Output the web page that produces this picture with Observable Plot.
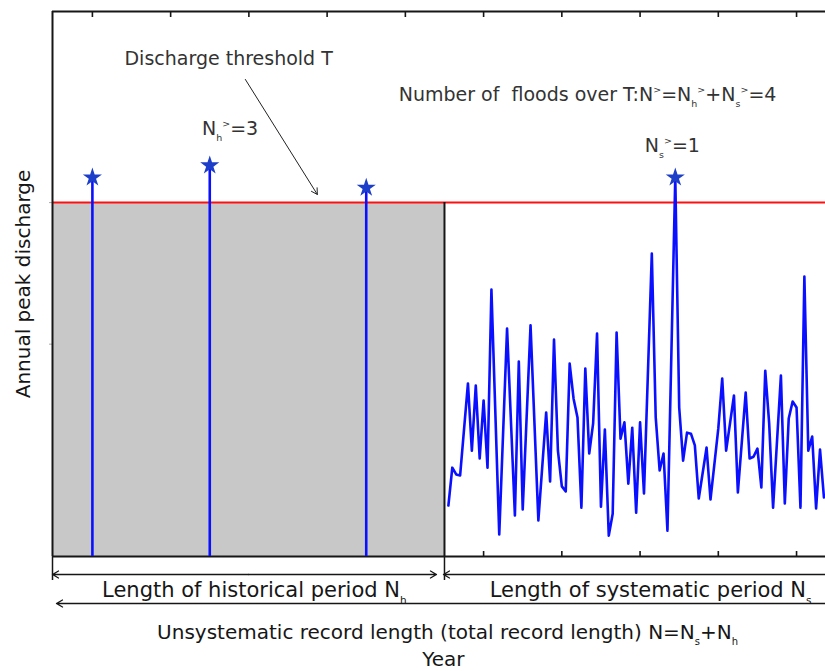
<!DOCTYPE html>
<html><head><meta charset="utf-8">
<script src="https://cdn.jsdelivr.net/npm/d3@7"></script>
<script src="https://cdn.jsdelivr.net/npm/@observablehq/plot@0.6"></script>
<style>body{margin:0;background:#fff} svg{display:block}</style>
</head><body><div id="chart"></div>
<script>
// ---------------- data ----------------
const threshold = 100;                       // discharge threshold T
const historicalYears = [1700, 1730, 1770];
const historicalPeaks = [107.1, 110.5, 104.2];
const systematicYears = [1791,1792,1793,1794,1796,1797,1798,1799,1800,1801,1802,1804,1806,1808,1809,1810,1812,1814,1816,1817,1818,1819,1820,1821,1822,1823,1824,1825,1826,1827,1828,1829,1830,1831,1832,1833,1834,1835,1836,1837,1838,1839,1840,1841,1843,1844,1845,1846,1847,1849,1850,1851,1852,1853,1854,1855,1857,1858,1860,1861,1862,1864,1865,1867,1868,1869,1870,1871,1872,1873,1874,1876,1877,1878,1879,1880,1881,1882,1883,1884,1885,1886,1887];
const systematicPeaks = [14.4,25.1,23.2,22.9,48.9,29.9,48.3,27.7,44.1,25.1,75.4,6.2,64.4,11.6,55.1,13.3,65.3,10.2,40.7,21.2,61.3,29.9,19.8,18.4,54.5,44.6,39.3,13.8,53.1,29.1,37.6,63.0,14.1,35.9,5.9,12.1,63.3,33.3,37.9,20.6,36.4,12.4,37.9,17.8,85.6,39.3,24.3,29.1,7.3,107.1,42.1,27.1,35.0,34.7,31.4,16.4,30.8,16.1,36.2,50.3,29.9,45.5,18.1,46.3,27.7,28.2,30.5,19.5,52.5,37.6,13.8,51.1,15.0,39.0,43.8,42.1,13.8,79.1,29.9,33.9,13.6,30.2,16.7];
const periodStart = 1689.8;     // start of historical period (left edge)
const systematicStart = 1790;   // start of systematic record
const periodEnd = 1887.4;       // right edge of the record shown
const yTop = 154;
const tickYears = [1700,1720,1740,1760,1780,1800,1820,1840,1860,1880];
const yTicks = [60, 100];

// annotation texts (markup: _{sub}, ^{sup})
const notes = [
  {text: "Discharge threshold T", x: 1708.2, y: 140.6},
  {text: "N_{h}^{>}=3", x: 1728.0, y: 120.7},
  {text: "Number of  floods over T:N^{>}=N_{h}^{>}+N_{s}^{>}=4", x: 1778.3, y: 130.3},
  {text: "N_{s}^{>}=1", x: 1841.2, y: 115.9}
];
const pointer = {x1: 1739.1, y1: 134.8, x2: 1757.5, y2: 102.3};
const periodLabels = [
  {text: "Length of historical period N_{h}", x: 1741.4},
  {text: "Length of systematic period N_{s}", x: 1842.7}
];
const totalLabel = {text: "Unsystematic record length (total record length) N=N_{s}+N_{h}", x: 1790.8};
const xTitle = {text: "Year", x: 1789.7};
const yTitle = "Annual peak discharge";

// ---------------- build ----------------
const W = 825, H = 671, mT = 11, mB = 115, mL = 52, mR = 0;
const pxPerUnit = (H - mT - mB) / yTop;
const below = px => -px / pxPerUnit;

const series = systematicYears.map((year, i) => ({year, q: systematicPeaks[i]}));
const hist = historicalYears.map((year, i) => ({year, q: historicalPeaks[i]}));
const exceed = hist.concat(series.filter(d => d.q > threshold));

const ink = "#161616";
const chart = Plot.plot({
  width: W, height: H,
  marginTop: mT, marginBottom: mB, marginLeft: mL, marginRight: mR,
  x: {domain: [periodStart, periodEnd], axis: null},
  y: {domain: [0, yTop], axis: null},
  style: {fontFamily: "DejaVu Sans", background: "white", overflow: "visible"},
  marks: [
    Plot.axisX({anchor: "top", ticks: tickYears, tickSize: -5, stroke: ink, strokeWidth: 1.6, fill: "none"}),
    Plot.axisX({anchor: "bottom", ticks: tickYears, tickSize: -5, stroke: ink, strokeWidth: 1.6, fill: "none"}),
    Plot.axisY({anchor: "left", ticks: yTicks, tickSize: 3, stroke: "#aaa", fill: "none"}),
    Plot.rect([{x1: periodStart, x2: systematicStart, y1: 0, y2: threshold}],
      {x1: "x1", x2: "x2", y1: "y1", y2: "y2", fill: "#c8c8c8"}),
    Plot.ruleY([threshold], {stroke: "#ff1010", strokeWidth: 2}),
    Plot.ruleX([systematicStart], {y1: () => 0, y2: () => threshold, stroke: ink, strokeWidth: 2}),
    // frame (top, left, bottom)
    Plot.ruleY([yTop], {stroke: ink, strokeWidth: 2}),
    Plot.ruleY([0], {stroke: ink, strokeWidth: 2}),
    Plot.ruleX([periodStart], {stroke: ink, strokeWidth: 2}),
    // historical floods (stems)
    Plot.ruleX(hist, {x: "year", y1: () => 0, y2: "q", stroke: "#0a10ff", strokeWidth: 2.6}),
    // systematic record
    Plot.line(series, {x: "year", y: "q", stroke: "#0a10ff", strokeWidth: 2.6}),
    Plot.dot(exceed, {x: "year", y: "q", symbol: "star", r: 6, fill: "#1c3ec8", stroke: null}),
    // annotations
    Plot.text(notes, {x: "x", y: "y", text: "text", textAnchor: "start", fontSize: 19, fill: "#333"}),
    Plot.arrow([pointer], {x1: "x1", y1: "y1", x2: "x2", y2: "y2", stroke: "#222", strokeWidth: 1, headLength: 10}),
    // bottom brackets and arrows
    Plot.ruleX([periodStart, systematicStart], {y1: () => below(0), y2: () => below(24), stroke: ink, strokeWidth: 1.5}),
    Plot.arrow([{a: (periodStart + systematicStart) / 2, b: periodStart}],
      {x1: "a", x2: "b", y1: () => below(18), y2: () => below(18), stroke: ink, strokeWidth: 1.3, headLength: 8}),
    Plot.arrow([{a: (periodStart + systematicStart) / 2, b: systematicStart}],
      {x1: "a", x2: "b", y1: () => below(18), y2: () => below(18), stroke: ink, strokeWidth: 1.3, headLength: 8, insetEnd: 8}),
    Plot.arrow([{a: periodEnd, b: systematicStart}],
      {x1: "a", x2: "b", y1: () => below(18), y2: () => below(18), stroke: ink, strokeWidth: 1.3, headLength: 8, insetEnd: -1}),
    Plot.arrow([{a: periodEnd, b: periodStart}],
      {x1: "a", x2: "b", y1: () => below(47), y2: () => below(47), stroke: ink, strokeWidth: 1.3, headLength: 8, insetEnd: 4}),
    Plot.text(periodLabels, {x: "x", y: () => 0, dy: 34, text: "text", fontSize: 21, fill: ink}),
    Plot.text([totalLabel], {x: "x", y: () => 0, dy: 76, text: "text", fontSize: 20, fill: ink}),
    Plot.text([xTitle], {x: "x", y: () => 0, dy: 103, text: "text", fontSize: 20, fill: ink}),
    Plot.text([yTitle], {frameAnchor: "left", textAnchor: "middle", dx: -29, rotate: -90, fontSize: 20, fill: ink})
  ]
});
document.getElementById("chart").appendChild(chart);

// sub/superscript rendering
function richify(root) {
  root.querySelectorAll("text").forEach(t => {
    const s = t.textContent;
    if (!/[_^]\{/.test(s)) return;
    const fs = parseFloat(getComputedStyle(t).fontSize);
    while (t.firstChild) t.removeChild(t.firstChild);
    let shift = 0;
    const re = /([_^])\{([^}]*)\}|([^_^]+)/g;
    let m;
    while ((m = re.exec(s))) {
      const ts = document.createElementNS("http://www.w3.org/2000/svg", "tspan");
      let target = 0, size = fs;
      if (m[1] === "_") { target = 0.3 * fs; size = 0.5 * fs; ts.textContent = m[2]; }
      else if (m[1] === "^") { target = -0.42 * fs; size = 0.5 * fs; ts.textContent = m[2]; }
      else ts.textContent = m[3];
      ts.setAttribute("dy", (target - shift).toFixed(2));
      ts.setAttribute("font-size", size.toFixed(2));
      shift = target;
      t.appendChild(ts);
    }
  });
}
richify(chart);
</script>
</body></html>
